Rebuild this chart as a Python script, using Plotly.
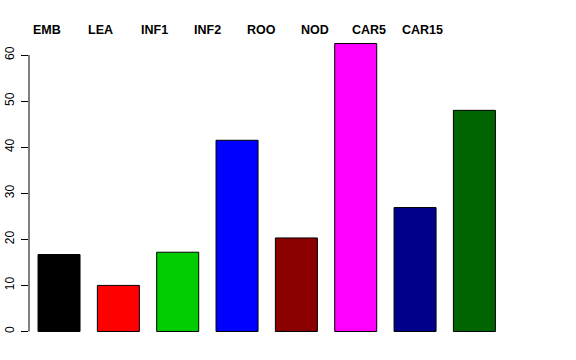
import plotly.graph_objects as go

categories = ["EMB", "LEA", "INF1", "INF2", "ROO", "NOD", "CAR5", "CAR15"]
values = [16.7, 10.0, 17.2, 41.5, 20.3, 62.5, 26.9, 48.0]
colors = ["#000000", "#FF0000", "#00CD00", "#0000FF", "#8B0000", "#FF00FF", "#00008B", "#006400"]
yticks = [0, 10, 20, 30, 40, 50, 60]

W, H = 576, 360
ml, mr, mt, mb = 29, 66, 32, 17
pw = W - ml - mr
ph = H - mt - mb
xr = [-0.506, 7.6]

xpos = list(range(len(categories)))
fig = go.Figure(go.Bar(
    x=xpos, y=values, width=0.708,
    marker=dict(color=colors, line=dict(color="#000000", width=1)),
))

# category labels along the top (centers spaced evenly)
for i, c in enumerate(categories):
    px = 47 + 53.6 * i
    fig.add_annotation(text="<b>" + c + "</b>", xref="paper", yref="paper",
                       x=(px - ml) / pw, y=1 + 1.5 / ph,
                       xanchor="center", yanchor="middle", showarrow=False,
                       font=dict(family="Liberation Sans, Arial", size=12.5, color="#000000"))

# R-style axis line spanning only the tick range
fig.add_shape(type="line", xref="paper", yref="y", x0=0, x1=0, y0=0, y1=60,
              line=dict(color="#000000", width=1))

fig.update_layout(
    width=W, height=H, margin=dict(l=ml, r=mr, t=mt, b=mb, autoexpand=False),
    plot_bgcolor="white", paper_bgcolor="white", showlegend=False,
    font=dict(family="Liberation Sans, Arial", size=12, color="#000000"),
    xaxis=dict(range=xr, showticklabels=False, showgrid=False, zeroline=False,
               showline=False, ticks="", automargin=False),
    yaxis=dict(range=[-2.5, 65], tickvals=yticks, ticktext=[str(v) for v in yticks],
               tickangle=-90, ticks="outside", ticklen=7, tickcolor="#000000",
               showgrid=False, zeroline=False, showline=False, automargin=False,
               tickfont=dict(size=12), ticklabelstandoff=2),
)

fig.write_html("out.html", config={"displayModeBar": False},
               post_script="document.body.style.margin='0';document.body.style.overflow='hidden';")
